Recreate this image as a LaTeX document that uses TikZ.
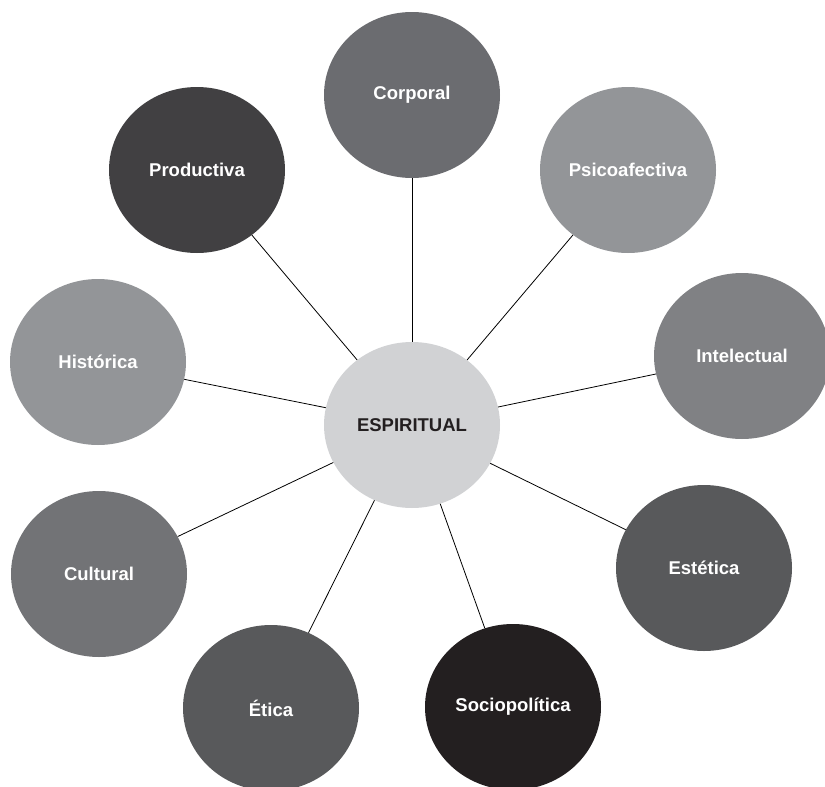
\documentclass[tikz,border=0pt]{standalone}
\usepackage{fontspec}
\setmainfont{Liberation Sans}
\usetikzlibrary{shapes.geometric}
\definecolor{cCorp}{HTML}{6B6C70}
\definecolor{cPsic}{HTML}{939598}
\definecolor{cInte}{HTML}{808184}
\definecolor{cEste}{HTML}{58595B}
\definecolor{cSoci}{HTML}{231F20}
\definecolor{cEtic}{HTML}{58595B}
\definecolor{cCult}{HTML}{727376}
\definecolor{cHist}{HTML}{939598}
\definecolor{cProd}{HTML}{414042}
\definecolor{cCent}{HTML}{D1D2D4}
\definecolor{cText}{HTML}{231F20}
\begin{document}
\begin{tikzpicture}[x=1pt,y=-1pt,
  bubble/.style={ellipse, minimum width=176pt, minimum height=166pt, inner sep=0pt,
    font=\fontsize{18.5}{20}\selectfont\bfseries, text=white},
  link/.style={draw=black, line width=0.8pt}]
\useasboundingbox (0,0) rectangle (825,787);
\node[bubble, fill=cCent, text=cText] (c) at (412,425) {ESPIRITUAL};
\node[bubble, fill=cCorp] (corp) at (412,95) {Corporal};
\node[bubble, fill=cPsic] (psic) at (628,170) {Psicoafectiva};
\node[bubble, fill=cInte] (inte) at (742,356) {Intelectual};
\node[bubble, fill=cEste] (este) at (704,568) {Estética};
\node[bubble, fill=cSoci] (soci) at (513,707) {Sociopolítica};
\node[bubble, fill=cEtic] (etic) at (271,708) {Ética};
\node[bubble, fill=cCult] (cult) at (99,574) {Cultural};
\node[bubble, fill=cHist] (hist) at (98,362) {Histórica};
\node[bubble, fill=cProd] (prod) at (197,170) {Productiva};
\foreach \n in {corp,psic,inte,este,soci,etic,cult,hist,prod}
  \draw[link] (c) -- (\n);
\end{tikzpicture}
\end{document}
